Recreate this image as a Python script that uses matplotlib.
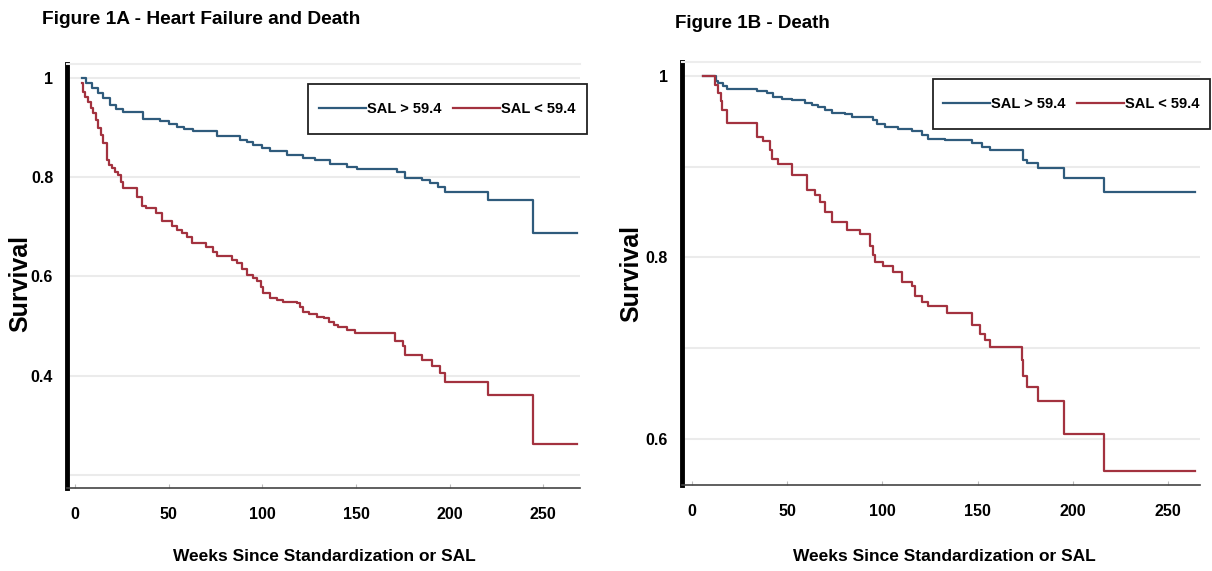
import matplotlib
matplotlib.use('Agg')
import matplotlib.pyplot as plt
from matplotlib.patches import Rectangle

# Figure 1A - heart failure and death (Kaplan-Meier steps: week, survival)
weeks_a_hi = [3.5, 6, 9, 12, 15, 18.7, 22, 25.8, 36.5, 45.4, 50, 54.3, 58, 63.2, 75.6, 88.1, 92, 95.2,
              100, 104.1, 113, 121.9, 128, 136.1, 145, 150.4, 171.7, 176.2, 185.1, 189.5, 194, 197.5,
              220.7, 244.4, 268]
surv_a_hi = [1.0, 0.99, 0.98, 0.97, 0.959, 0.946, 0.938, 0.931, 0.917, 0.913, 0.907, 0.902, 0.897, 0.892,
             0.883, 0.875, 0.87, 0.865, 0.858, 0.852, 0.845, 0.838, 0.834, 0.826, 0.821, 0.817, 0.81, 0.798,
             0.795, 0.788, 0.781, 0.77, 0.753, 0.688, 0.688]

weeks_a_lo = [3.5, 4.4, 5.5, 7.1, 8.5, 9.8, 11, 12.4, 13.7, 15.1, 16.9, 18, 19.6, 21.5, 23.1, 24.5, 25.8,
              33, 35.6, 38, 43, 46.3, 52, 54.3, 57, 59.6, 62.3, 70, 73.8, 75.6, 84, 86.3, 89, 91.7, 95, 97,
              99, 100.5, 104.1, 108, 111.2, 118.4, 120, 121.9, 125, 129, 133, 135.3, 138, 140.6, 145, 149.5,
              170.9, 175.3, 176.2, 185.1, 190.5, 194.9, 197.5, 220.7, 244.4, 268]
surv_a_lo = [0.99, 0.972, 0.962, 0.952, 0.94, 0.929, 0.915, 0.899, 0.884, 0.868, 0.835, 0.825, 0.818, 0.81,
             0.805, 0.79, 0.778, 0.76, 0.741, 0.738, 0.728, 0.711, 0.702, 0.694, 0.687, 0.68, 0.667, 0.66,
             0.65, 0.641, 0.634, 0.627, 0.615, 0.603, 0.596, 0.59, 0.578, 0.566, 0.556, 0.552, 0.549, 0.546,
             0.538, 0.529, 0.524, 0.519, 0.516, 0.508, 0.503, 0.499, 0.492, 0.487, 0.471, 0.459, 0.442,
             0.432, 0.419, 0.405, 0.388, 0.361, 0.263, 0.263]

# Figure 1B - death
weeks_b_hi = [5.9, 12.5, 13.8, 16, 18.2, 34, 39.2, 42.7, 47.1, 52.4, 59.3, 63, 66.3, 70, 73.4, 80.4, 83.9,
              95, 97, 101.4, 108.4, 115.4, 120.6, 124.1, 132.9, 146.9, 152.1, 156.5, 174, 175.8, 181.9,
              195.6, 216.6, 264]
surv_b_hi = [1.0, 0.995, 0.992, 0.989, 0.986, 0.983, 0.981, 0.977, 0.975, 0.973, 0.97, 0.968, 0.966, 0.962,
             0.959, 0.958, 0.955, 0.951, 0.947, 0.944, 0.942, 0.939, 0.935, 0.931, 0.929, 0.926, 0.922,
             0.918, 0.907, 0.904, 0.899, 0.887, 0.872, 0.872]

weeks_b_lo = [5.9, 12.1, 13.8, 15, 15.6, 18.2, 34, 37.5, 41, 41.9, 45.3, 52.4, 60.2, 64.6, 67.2, 69.9, 73.4,
              81.3, 88.2, 93.5, 95, 96.1, 100.5, 105.7, 110.1, 115.4, 117.1, 120.6, 124.1, 133.8, 146.9,
              151.3, 153.9, 156.5, 173.2, 174, 175.8, 181.9, 195.6, 216.6, 264]
surv_b_lo = [1.0, 0.99, 0.981, 0.972, 0.963, 0.948, 0.933, 0.928, 0.918, 0.909, 0.903, 0.891, 0.874, 0.869,
             0.861, 0.85, 0.839, 0.83, 0.826, 0.812, 0.803, 0.795, 0.79, 0.784, 0.773, 0.768, 0.757, 0.751,
             0.746, 0.739, 0.725, 0.716, 0.709, 0.701, 0.687, 0.669, 0.657, 0.642, 0.605, 0.564, 0.564]

labels = ['SAL > 59.4', 'SAL < 59.4']
x_ticks = [0, 50, 100, 150, 200, 250]

blue = '#2f5b7c'
red = '#a3323f'
font = ['Liberation Sans', 'DejaVu Sans']

W, H = 1212, 571
fig = plt.figure(figsize=(12.12, 5.71), dpi=100)
ax_a = fig.add_axes([0.0553, 0.1454, 0.4233, 0.7426])
ax_b = fig.add_axes([0.5627, 0.1506, 0.4274, 0.7408])

panels = [
    (ax_a, weeks_a_hi, surv_a_hi, weeks_a_lo, surv_a_lo, (-4.3, 269.6), (0.174, 1.028),
     [0.2, 0.4, 0.6, 0.8, 1.0], ['', '0.4', '0.6', '0.8', '1'], (308, 84, 587, 134), (0.501, -0.162), (-0.092, 0.483)),
    (ax_b, weeks_b_hi, surv_b_hi, weeks_b_lo, surv_b_lo, (-5.3, 266.8), (0.549, 1.0154),
     [0.6, 0.7, 0.8, 0.9, 1.0], ['0.6', '', '0.8', '', '1'], (933, 79, 1210, 129), (0.506, -0.170), (-0.097, 0.501)),
]

for ax, th, sh, tl, sl, xlim, ylim, yt, ytl, lbox, xlab, ylab in panels:
    ax.step(th, sh, where='post', color=blue, lw=1.6, label=labels[0])
    ax.step(tl, sl, where='post', color=red, lw=1.6, label=labels[1])
    ax.set_xlim(*xlim)
    ax.set_ylim(*ylim)
    for y in yt:
        ax.axhline(y, color='#ebebeb', lw=1.5, zorder=0)
    ax.set_yticks(yt)
    ax.set_yticklabels(ytl, fontfamily=font, fontweight='bold', fontsize=11.5)
    ax.set_xticks(x_ticks)
    ax.set_xticklabels([str(v) for v in x_ticks], fontfamily=font, fontweight='bold', fontsize=11.5)
    ax.tick_params(axis='y', length=0, pad=10)
    ax.tick_params(axis='x', direction='in', length=3, color='#bbbbbb', pad=14)
    ax.spines['left'].set_linewidth(3.5)
    ax.spines['left'].set_color('black')
    ax.spines['bottom'].set_linewidth(1.2)
    ax.spines['bottom'].set_color('#444444')
    ax.spines['right'].set_visible(False)
    ax.spines['top'].set_color('#ededed')
    ax.spines['top'].set_linewidth(1.5)
    ax.set_xlabel('Weeks Since Standardization or SAL', fontfamily=font, fontweight='bold', fontsize=12.5)
    ax.xaxis.set_label_coords(*xlab)
    ax.xaxis.label.set_va('center')
    ax.set_ylabel('Survival', fontfamily=font, fontweight='bold', fontsize=18)
    ax.yaxis.set_label_coords(*ylab)
    ax.yaxis.label.set_va('center')
    ax.yaxis.label.set_ha('center')

    x0, y0, x1, y1 = lbox
    fig.patches.append(Rectangle((x0 / W, 1 - y1 / H), (x1 - x0) / W, (y1 - y0) / H,
                                 transform=fig.transFigure, fill=True, facecolor='white',
                                 edgecolor='#222222', lw=1.3, zorder=5))
    leg = fig.legend(*ax.get_legend_handles_labels(), loc='center', ncol=2,
                     bbox_to_anchor=((x0 + x1) / 2 / W, 1 - (y0 + y1) / 2 / H),
                     frameon=False, handlelength=3.2, handletextpad=0.1, columnspacing=0.8,
                     prop={'family': font, 'weight': 'bold', 'size': 10.5})
    leg.set_zorder(6)

fig.text(42 / W, 1 - 20 / H, 'Figure 1A - Heart Failure and Death', fontfamily=font,
         fontweight='bold', fontsize=13.8, va='center', ha='left')
fig.text(675 / W, 1 - 24 / H, 'Figure 1B - Death', fontfamily=font,
         fontweight='bold', fontsize=13.5, va='center', ha='left')

fig.savefig('out.png', dpi=100)
